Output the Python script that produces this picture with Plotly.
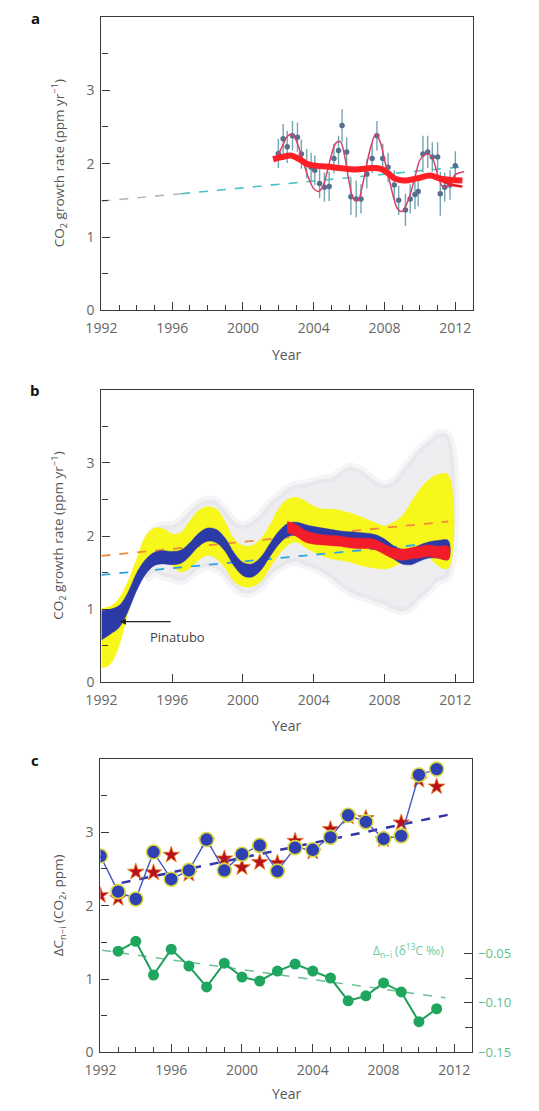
import plotly.graph_objects as go

# ---------------- Panel a data ----------------
a_trend_gray_year = [1992.0, 1996.5]
a_trend_gray_val = [1.49, 1.59]
a_trend_cyan_year = [1996.5, 2012.5]
a_trend_cyan_val = [1.59, 1.96]

a_pt_year = [2002.0, 2002.27, 2002.5, 2002.8, 2003.08, 2003.3, 2003.6, 2003.85, 2004.06, 2004.33,
             2004.6, 2004.87, 2005.14, 2005.4, 2005.6, 2005.86, 2006.1, 2006.4, 2006.67, 2007.0,
             2007.3, 2007.57, 2007.9, 2008.2, 2008.55, 2008.8, 2009.18, 2009.45, 2009.72, 2009.9,
             2010.17, 2010.44, 2010.7, 2011.0, 2011.15, 2011.4, 2011.7, 2012.0]
a_pt_val = [2.14, 2.34, 2.23, 2.38, 2.36, 2.13, 2.0, 1.95, 1.91, 1.73,
            1.68, 1.69, 2.07, 2.18, 2.52, 2.16, 1.55, 1.52, 1.52, 1.86,
            2.07, 2.38, 2.07, 1.95, 1.71, 1.5, 1.37, 1.52, 1.58, 1.62,
            2.13, 2.16, 2.09, 2.09, 1.59, 1.68, 1.71, 1.97]
a_pt_err = [0.2, 0.2, 0.22, 0.2, 0.2, 0.2, 0.2, 0.2, 0.2, 0.2,
            0.2, 0.2, 0.2, 0.2, 0.22, 0.2, 0.25, 0.25, 0.2, 0.2,
            0.2, 0.2, 0.2, 0.2, 0.2, 0.2, 0.22, 0.2, 0.2, 0.2,
            0.25, 0.22, 0.2, 0.2, 0.3, 0.2, 0.2, 0.2]

a_fit_year = [2001.9, 2002.25, 2002.5, 2002.75, 2003.0, 2003.25, 2003.5, 2003.75, 2004.0, 2004.25,
              2004.5, 2004.75, 2005.0, 2005.25, 2005.5, 2005.75, 2006.0, 2006.25, 2006.5, 2006.75,
              2007.0, 2007.25, 2007.5, 2007.75, 2008.0, 2008.25, 2008.5, 2008.75, 2009.0, 2009.25,
              2009.5, 2009.75, 2010.0, 2010.25, 2010.5, 2010.75, 2011.0, 2011.25, 2011.5, 2011.75,
              2012.0, 2012.5]
a_fit_val = [2.08, 2.25, 2.37, 2.4, 2.32, 2.15, 1.95, 1.78, 1.66, 1.62,
             1.68, 1.88, 2.12, 2.28, 2.3, 2.1, 1.75, 1.52, 1.5, 1.7,
             2.0, 2.25, 2.4, 2.3, 2.05, 1.8, 1.55, 1.38, 1.35, 1.45,
             1.62, 1.85, 2.05, 2.12, 2.13, 2.05, 1.85, 1.7, 1.68, 1.75,
             1.85, 1.89]

a_smooth_year = [2001.7, 2002.2, 2002.7, 2003.2, 2003.6, 2004.2, 2004.7, 2005.45, 2006.36, 2007.28,
                 2007.8, 2008.2, 2008.56, 2009.1, 2009.84, 2010.57, 2011.1, 2011.67, 2012.4]
a_smooth_val = [2.06, 2.09, 2.11, 2.06, 2.0, 1.97, 1.96, 1.94, 1.92, 1.94,
                1.93, 1.87, 1.8, 1.77, 1.8, 1.84, 1.8, 1.78, 1.77]
a_smooth2_year = [2010.6, 2011.1, 2011.67, 2012.4]
a_smooth2_val = [1.83, 1.78, 1.72, 1.69]

# ---------------- Panel b data ----------------
b_year = [1992.0, 1992.5, 1993.0, 1993.5, 1994.0, 1994.5, 1995.0, 1995.5, 1996.0, 1996.5,
          1997.0, 1997.5, 1998.0, 1998.5, 1999.0, 1999.5, 2000.0, 2000.5, 2001.0, 2001.5,
          2002.0, 2002.5, 2003.0, 2003.5, 2004.0, 2004.5, 2005.0, 2005.5, 2006.0, 2006.5,
          2007.0, 2007.5, 2008.0, 2008.5, 2009.0, 2009.5, 2010.0, 2010.5, 2011.0, 2011.6]
b_yellow_hi = [1.01, 1.04, 1.15, 1.38, 1.69, 2.0, 2.11, 2.10, 2.03, 2.05,
               2.21, 2.35, 2.40, 2.37, 2.19, 1.96, 1.87, 1.87, 1.96, 2.14,
               2.37, 2.50, 2.53, 2.48, 2.41, 2.37, 2.37, 2.35, 2.32, 2.28,
               2.23, 2.18, 2.14, 2.19, 2.28, 2.46, 2.64, 2.77, 2.84, 2.84]
b_yellow_lo = [0.20, 0.25, 0.50, 0.95, 1.30, 1.52, 1.63, 1.67, 1.60, 1.51,
               1.56, 1.67, 1.74, 1.69, 1.56, 1.38, 1.31, 1.31, 1.38, 1.56,
               1.74, 1.87, 1.92, 1.85, 1.78, 1.73, 1.69, 1.67, 1.65, 1.61,
               1.58, 1.56, 1.55, 1.58, 1.65, 1.71, 1.74, 1.71, 1.60, 1.56]
b_blue_hi = [0.98, 1.00, 1.05, 1.23, 1.50, 1.68, 1.78, 1.80, 1.79, 1.81,
             1.91, 2.04, 2.11, 2.09, 1.97, 1.77, 1.64, 1.62, 1.71, 1.89,
             2.06, 2.17, 2.19, 2.16, 2.13, 2.11, 2.09, 2.07, 2.06, 2.05,
             2.04, 2.02, 1.96, 1.87, 1.82, 1.83, 1.88, 1.92, 1.94, 1.94]
b_blue_lo = [0.58, 0.66, 0.75, 0.97, 1.26, 1.48, 1.60, 1.62, 1.61, 1.63,
             1.73, 1.86, 1.93, 1.91, 1.79, 1.59, 1.46, 1.44, 1.53, 1.71,
             1.88, 1.99, 2.01, 1.98, 1.95, 1.93, 1.91, 1.89, 1.88, 1.87,
             1.86, 1.84, 1.78, 1.69, 1.62, 1.61, 1.66, 1.70, 1.70, 1.68]

b_red_year = [2002.5, 2003.0, 2003.5, 2004.0, 2004.5, 2005.0, 2005.5, 2006.0, 2006.5, 2007.0,
              2007.5, 2008.0, 2008.5, 2009.0, 2009.5, 2010.0, 2010.5, 2011.0, 2011.6]
b_red_hi = [2.20, 2.16, 2.08, 2.04, 2.02, 2.01, 2.00, 1.98, 1.97, 1.97,
            1.95, 1.89, 1.84, 1.82, 1.84, 1.86, 1.88, 1.86, 1.86]
b_red_lo = [2.05, 2.00, 1.92, 1.89, 1.88, 1.87, 1.86, 1.84, 1.83, 1.83,
            1.81, 1.75, 1.69, 1.67, 1.69, 1.70, 1.72, 1.70, 1.68]

b_gray_year = [1994.5, 1995.0, 1995.5, 1996.0, 1996.5, 1997.0, 1997.5, 1998.0, 1998.5, 1999.0,
               1999.5, 2000.0, 2000.5, 2001.0, 2001.5, 2002.0, 2002.5, 2003.0, 2003.5, 2004.0,
               2004.5, 2005.0, 2005.5, 2006.0, 2006.5, 2007.0, 2007.5, 2008.0, 2008.5, 2009.0,
               2009.5, 2010.0, 2010.5, 2011.0, 2011.6]
b_gray_hi = [1.9, 2.1, 2.15, 2.15, 2.22, 2.35, 2.45, 2.5, 2.48, 2.35,
             2.2, 2.15, 2.2, 2.3, 2.45, 2.55, 2.65, 2.7, 2.72, 2.75,
             2.78, 2.8, 2.88, 2.95, 2.92, 2.85, 2.75, 2.7, 2.75, 2.9,
             3.05, 3.2, 3.3, 3.4, 3.38]
b_gray_lo = [1.4, 1.5, 1.45, 1.42, 1.38, 1.45, 1.55, 1.58, 1.55, 1.45,
             1.3, 1.22, 1.22, 1.3, 1.45, 1.55, 1.62, 1.65, 1.6, 1.56,
             1.5, 1.42, 1.32, 1.24, 1.18, 1.15, 1.1, 1.06, 1.0, 0.97,
             1.02, 1.15, 1.25, 1.38, 1.45]

b_orange_year = [1992.0, 2011.6]
b_orange_val = [1.73, 2.20]
b_cyan_year = [1992.0, 2011.6]
b_cyan_val = [1.47, 1.92]

# ---------------- Panel c data ----------------
c_year = [1992, 1993, 1994, 1995, 1996, 1997, 1998, 1999, 2000, 2001,
          2002, 2003, 2004, 2005, 2006, 2007, 2008, 2009, 2010, 2011]
c_circle = [2.675, 2.19, 2.09, 2.73, 2.36, 2.48, 2.90, 2.48, 2.70, 2.82,
            2.47, 2.79, 2.76, 2.93, 3.23, 3.14, 2.91, 2.95, 3.78, 3.86]
c_star = [2.14, 2.10, 2.46, 2.45, 2.69, 2.43, 2.88, 2.64, 2.52, 2.59,
          2.58, 2.88, 2.73, 3.04, 3.21, 3.19, 2.90, 3.13, 3.71, 3.62]
c_trend_year = [1993.2, 2012.1]
c_trend_val = [2.31, 3.26]

c_green_year = [1993, 1994, 1995, 1996, 1997, 1998, 1999, 2000, 2001, 2002,
                2003, 2004, 2005, 2006, 2007, 2008, 2009, 2010, 2011]
c_green = [-0.048, -0.038, -0.072, -0.046, -0.063, -0.084, -0.060, -0.074, -0.078, -0.068,
           -0.061, -0.068, -0.075, -0.098, -0.093, -0.080, -0.089, -0.119, -0.106]
c_green_trend_year = [1992.1, 2011.5]
c_green_trend_val = [-0.047, -0.095]

x_tickvals = [1992, 1996, 2000, 2004, 2008, 2012]
y_tickvals = [0, 1, 2, 3]
r_tickvals = [-0.15, -0.10, -0.05]
r_ticktext = ["\u22120.15", "\u22120.10", "\u22120.05"]
r_minor_tickvals = [-0.125, -0.075]

FONT = "Open Sans"
TICKC = "#666666"
TITLEC = "#555555"
LINEC = "#3a3a3a"
W, H = 539, 1111


def closed(xs, hi, lo):
    return list(xs) + list(xs)[::-1], list(hi) + list(lo)[::-1]


fig = go.Figure()

# ---- panel a traces ----
fig.add_trace(go.Scatter(x=a_trend_gray_year, y=a_trend_gray_val, mode="lines",
                         line=dict(color="#b8b8b8", width=1.6, dash="dash"), xaxis="x", yaxis="y"))
fig.add_trace(go.Scatter(x=a_trend_cyan_year, y=a_trend_cyan_val, mode="lines",
                         line=dict(color="#48c4c4", width=1.6, dash="dash"), xaxis="x", yaxis="y"))
fig.add_trace(go.Scatter(x=a_pt_year, y=a_pt_val, mode="markers",
                         marker=dict(color="#566f8e", size=5.5),
                         error_y=dict(type="data", array=a_pt_err, color="#74a6b0", thickness=1.4, width=0),
                         xaxis="x", yaxis="y"))
fig.add_trace(go.Scatter(x=a_fit_year, y=a_fit_val, mode="lines", line_shape="spline",
                         line=dict(color="#d5406a", width=1.5), xaxis="x", yaxis="y"))
fig.add_trace(go.Scatter(x=a_smooth2_year, y=a_smooth2_val, mode="lines", line_shape="spline",
                         line=dict(color="#ee1c24", width=2.5), xaxis="x", yaxis="y"))
fig.add_trace(go.Scatter(x=a_smooth_year, y=a_smooth_val, mode="lines", line_shape="spline",
                         line=dict(color="#ff1e24", width=6), xaxis="x", yaxis="y"))

# ---- panel b traces ----
gx, gy = closed(b_gray_year, b_gray_hi, b_gray_lo)
fig.add_trace(go.Scatter(x=gx, y=gy, mode="lines", fill="toself", line_shape="spline",
                         fillcolor="rgba(200,200,210,0.30)", line=dict(color="rgba(215,215,222,0.25)", width=8),
                         xaxis="x2", yaxis="y2"))
yx, yy = closed(b_year, b_yellow_hi, b_yellow_lo)
fig.add_trace(go.Scatter(x=yx, y=yy, mode="lines", fill="toself", line_shape="spline",
                         fillcolor="#f7f71c", line=dict(color="#f7f71c", width=0.5),
                         xaxis="x2", yaxis="y2"))
fig.add_trace(go.Scatter(x=b_orange_year, y=b_orange_val, mode="lines",
                         line=dict(color="#f08a3c", width=1.8, dash="dash"), xaxis="x2", yaxis="y2"))
fig.add_trace(go.Scatter(x=b_cyan_year, y=b_cyan_val, mode="lines",
                         line=dict(color="#2aa6e0", width=1.8, dash="dash"), xaxis="x2", yaxis="y2"))
bx, by = closed(b_year, b_blue_hi, b_blue_lo)
fig.add_trace(go.Scatter(x=bx, y=by, mode="lines", fill="toself", line_shape="spline",
                         fillcolor="#2c3aa8", line=dict(color="#2c3aa8", width=0.5),
                         xaxis="x2", yaxis="y2"))
rx, ry = closed(b_red_year, b_red_hi, b_red_lo)
fig.add_trace(go.Scatter(x=rx, y=ry, mode="lines", fill="toself", line_shape="spline",
                         fillcolor="#f21c2a", line=dict(color="#f21c2a", width=0.5),
                         xaxis="x2", yaxis="y2"))

# ---- panel c traces ----
fig.add_trace(go.Scatter(x=c_green_trend_year, y=c_green_trend_val, mode="lines",
                         line=dict(color="#6cbf96", width=1.5, dash="dash"), xaxis="x3", yaxis="y4"))
fig.add_trace(go.Scatter(x=c_green_year, y=c_green, mode="lines+markers",
                         line=dict(color="#1f9e5c", width=2),
                         marker=dict(color="#1fa65e", size=11), xaxis="x3", yaxis="y4"))
fig.add_trace(go.Scatter(x=c_trend_year, y=c_trend_val, mode="lines",
                         line=dict(color="#3436a6", width=2.5, dash="dash"), xaxis="x3", yaxis="y3"))
fig.add_trace(go.Scatter(x=c_year, y=c_star, mode="markers",
                         marker=dict(symbol="star", color="#b5121e", size=12.5,
                                     line=dict(color="#f07a20", width=0.8)),
                         xaxis="x3", yaxis="y3"))
fig.add_trace(go.Scatter(x=c_year, y=c_circle, mode="lines+markers",
                         line=dict(color="#4656c0", width=1.4),
                         marker=dict(color="#2e40b2", size=14, line=dict(color="#d6d840", width=1.6)),
                         xaxis="x3", yaxis="y3"))


def xax(domain, anchor, minor=True):
    d = dict(domain=domain, anchor=anchor, range=[1992, 2013], tickmode="array", tickvals=x_tickvals,
             ticks="inside", ticklen=8, tickwidth=1.2, tickcolor=LINEC,
             showline=True, mirror=True, linecolor=LINEC, linewidth=1.3,
             showgrid=False, zeroline=False, ticklabelstandoff=5,
             tickfont=dict(family=FONT, size=14, color=TICKC))
    if minor:
        d["minor"] = dict(tickmode="linear", tick0=1992, dtick=1, ticks="inside", ticklen=5,
                          tickwidth=1.1, tickcolor=LINEC, showgrid=False)
    return d


def yax(domain, anchor):
    return dict(domain=domain, anchor=anchor, range=[0, 4], tickmode="array", tickvals=y_tickvals,
                ticks="inside", ticklen=8, tickwidth=1.2, tickcolor=LINEC,
                minor=dict(tickmode="linear", tick0=0, dtick=0.5, ticks="inside", ticklen=6,
                           tickwidth=1.1, tickcolor=LINEC, showgrid=False),
                showline=True, mirror=True, linecolor=LINEC, linewidth=1.3,
                showgrid=False, zeroline=False, ticklabelstandoff=3,
                tickfont=dict(family=FONT, size=14, color=TICKC))


def px(v):
    return v / W


def py(v):
    return 1 - v / H


a_top, a_bot = 17, 313
b_top, b_bot = 393, 688
c_top, c_bot = 765, 1061
xl, xr = 88, 471

ytitle_a = "CO<sub>2</sub> growth rate (ppm yr<sup>\u22121</sup>)"
ytitle_c = "\u0394C<sub>n\u2212i</sub> (CO<sub>2</sub>, ppm)"

fig.update_layout(
    width=W, height=H, margin=dict(l=0, r=0, t=0, b=0),
    paper_bgcolor="white", plot_bgcolor="white", showlegend=False,
    font=dict(family=FONT, color=TICKC),
    xaxis=xax([px(xl), px(xr)], "y"),
    yaxis=yax([py(a_bot), py(a_top)], "x"),
    xaxis2=xax([px(xl), px(xr)], "y2", minor=False),
    yaxis2=yax([py(b_bot), py(b_top)], "x2"),
    xaxis3=xax([px(87), px(470)], "y3"),
    yaxis3=yax([py(c_bot), py(c_top)], "x3"),
    yaxis4=dict(overlaying="y3", side="right", anchor="x3", range=[-0.15, 0.146],
                tickmode="array", tickvals=r_tickvals, ticktext=r_ticktext,
                ticks="inside", ticklen=8, tickwidth=1.2, tickcolor=LINEC,
                minor=dict(tickmode="array", tickvals=r_minor_tickvals, ticks="inside", ticklen=7,
                           tickwidth=1.1, tickcolor=LINEC, showgrid=False),
                showline=False, showgrid=False, zeroline=False, ticklabelstandoff=5,
                tickfont=dict(family=FONT, size=13, color="#5cc08e")),
)

ann = []
for letter, yy_ in [("a", 18), ("b", 393), ("c", 766)]:
    ann.append(dict(text="<b>%s</b>" % letter, x=px(20), y=py(yy_), xref="paper", yref="paper",
                    showarrow=False, font=dict(family=FONT, size=15, color="#111"),
                    xanchor="center", yanchor="middle"))
for yy_ in [357, 731, 1102]:
    ann.append(dict(text="Year", x=px(279), y=py(yy_), xref="paper", yref="paper",
                    showarrow=False, font=dict(family=FONT, size=14, color=TITLEC),
                    xanchor="center", yanchor="middle"))
for t, top, bot in [(ytitle_a, a_top, a_bot), (ytitle_a, b_top, b_bot), (ytitle_c, c_top, c_bot)]:
    ann.append(dict(text=t, x=px(44), y=py((top + bot) / 2), xref="paper", yref="paper",
                    textangle=-90, showarrow=False, font=dict(family=FONT, size=13.5, color=TITLEC),
                    xanchor="center", yanchor="middle"))
# Pinatubo
ann.append(dict(x=1993.05, y=0.83, ax=1996.0, ay=0.83, xref="x2", yref="y2", axref="x2", ayref="y2",
                text="", showarrow=True, arrowhead=2, arrowsize=1, arrowwidth=1.2, arrowcolor="#222"))
ann.append(dict(x=1996.3, y=0.62, xref="x2", yref="y2", text="Pinatubo", showarrow=False,
                font=dict(family=FONT, size=13, color="#444"), xanchor="center", yanchor="middle"))
# green label
ann.append(dict(x=2011.5, y=1.39, xref="x3", yref="y3",
                text="\u0394<sub>n\u2212i</sub> (\u03b4<sup>13</sup>C \u2030)", showarrow=False,
                font=dict(family=FONT, size=12, color="#6cc9a0"), xanchor="right", yanchor="middle"))
fig.update_layout(annotations=ann)

fig.write_html("out.html")
